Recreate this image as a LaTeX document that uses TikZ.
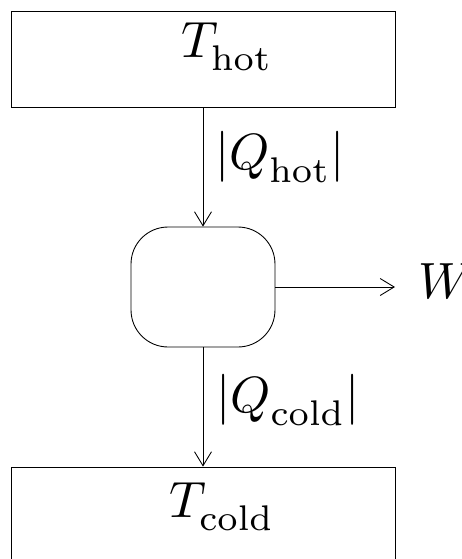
\documentclass[tikz,border=0pt]{standalone}
\usepackage{amsmath}
\usetikzlibrary{arrows.meta, positioning}
\font\mathsyten=cmsy10
\fontdimen16\mathsyten=2.6pt
\fontdimen17\mathsyten=2.6pt

\begin{document}
\begin{tikzpicture}[x=0.02cm, y=-0.02cm, line width=0.5pt,
    reservoir/.style={draw, minimum width=7.68cm, minimum height=1.92cm},
    engine/.style={draw, rounded corners=0.74cm, minimum width=2.88cm, minimum height=2.4cm},
    flow/.style={-{Straight Barb[length=2.8mm, width=3.4mm]}},
    bigmath/.style={scale=2.9, transform shape}]
    \clip (0, 0) rectangle (462, 559);

    % reservoirs and the engine
    \node[reservoir] (hot) at (203, 59) {};
    \node[engine] (eng) at (203, 287) {};
    \node[reservoir] (cold) at (203, 515) {};

    \node[bigmath, anchor=base] (thot) at (227, 57) {$T_{\mathrm{hot}}$};
    \node[bigmath, anchor=base] (tcold) at (222, 517) {$T_{\mathrm{cold}}$};

    % heat flows and work
    \node[bigmath] (qhot) at (280, 157) {$\left|Q_{\mathrm{hot}}\right|$};
    \node[bigmath] (qcold) at (288, 400) {$\left|Q_{\mathrm{cold}}\right|$};
    \node[bigmath, anchor=west, inner xsep=4.3pt] (work) at (395, 281) {$W$};

    \draw[flow] (hot.south) -- (eng.north);
    \draw[flow] (eng.south) -- (cold.north);
    \draw[flow] (eng.east) -- (eng.east -| work.west);
\end{tikzpicture}
\end{document}
